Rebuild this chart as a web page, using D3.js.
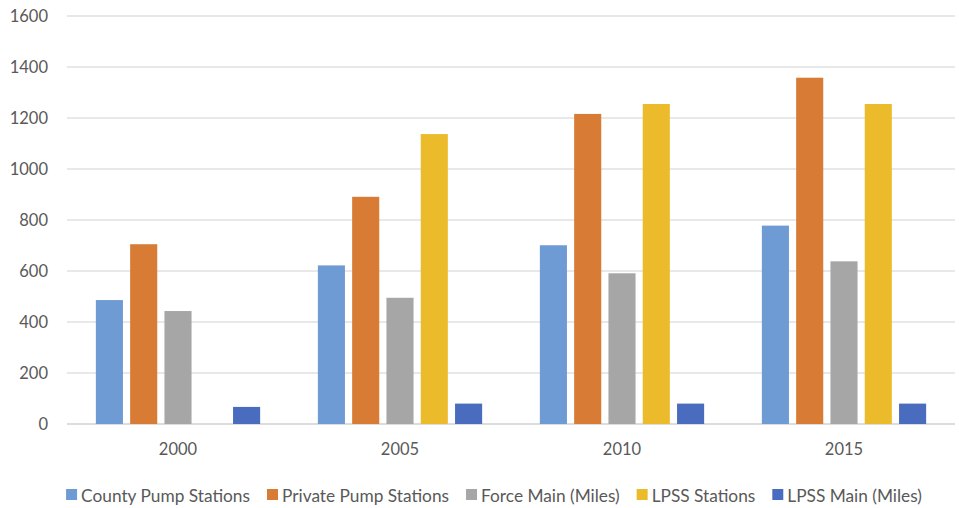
<!DOCTYPE html>
<html lang="en">
<head>
    <meta charset="utf-8">
    <script src="https://cdnjs.cloudflare.com/ajax/libs/d3/7.8.5/d3.min.js"></script>
    <style>
        body { margin: 0; background: #fff; }
        text { font-family: Lato, "Open Sans", sans-serif; fill: #595959; }
    </style>
</head>
<body>
    <script>
        var w = 959;
        var h = 508;

        // data
        var years = ["2000", "2005", "2010", "2015"];
        var seriesNames = ["County Pump Stations", "Private Pump Stations", "Force Main (Miles)", "LPSS Stations", "LPSS Main (Miles)"];
        var countyPump = [486, 622, 701, 778];
        var privatePump = [705, 891, 1216, 1358];
        var forceMain = [443, 495, 591, 638];
        var lpssStations = [0, 1137, 1255, 1255];
        var lpssMain = [67, 80, 80, 80];
        var yTicks = [0, 200, 400, 600, 800, 1000, 1200, 1400, 1600];
        var colors = ["#6f9bd4", "#d77b35", "#a6a6a6", "#ecbb2c", "#4a6cbf"];

        var values = [countyPump, privatePump, forceMain, lpssStations, lpssMain];

        var margin = { top: 16, right: 4, bottom: 84, left: 67 };
        var plotW = w - margin.left - margin.right;
        var plotH = h - margin.top - margin.bottom;

        var svg = d3.select("body").append("svg")
            .attr("width", w)
            .attr("height", h);

        var g = svg.append("g")
            .attr("transform", "translate(" + margin.left + "," + margin.top + ")");

        var x0 = d3.scaleBand()
            .domain(years)
            .range([0, plotW])
            .paddingInner(0.26)
            .paddingOuter(0.13);

        var x1 = d3.scaleBand()
            .domain(d3.range(seriesNames.length))
            .range([0, x0.bandwidth()])
            .paddingInner(0.21)
            .paddingOuter(0);

        var y = d3.scaleLinear()
            .domain([0, 1600])
            .range([plotH, 0]);

        // gridlines
        g.append("g")
            .selectAll("line")
            .data(yTicks)
            .enter()
            .append("line")
            .attr("x1", 0)
            .attr("x2", plotW)
            .attr("y1", d => y(d))
            .attr("y2", d => y(d))
            .attr("stroke", d => d == 0 ? "#d0d0d0" : "#e0e0e0")
            .attr("stroke-width", 1.3);

        // y labels
        g.append("g")
            .selectAll("text")
            .data(yTicks)
            .enter()
            .append("text")
            .attr("x", -19)
            .attr("y", d => y(d))
            .attr("dy", "0.36em")
            .attr("text-anchor", "end")
            .attr("font-size", "16.5px")
            .text(d => d);

        // bars
        var groups = g.selectAll("g.year")
            .data(years)
            .enter()
            .append("g")
            .attr("class", "year")
            .attr("transform", d => "translate(" + x0(d) + ",0)");

        groups.selectAll("rect")
            .data((d, i) => values.map((s, k) => ({ k: k, v: s[i] })))
            .enter()
            .append("rect")
            .attr("x", d => x1(d.k))
            .attr("width", x1.bandwidth())
            .attr("y", d => y(d.v))
            .attr("height", d => plotH - y(d.v))
            .attr("fill", d => colors[d.k]);

        // x labels
        g.append("g")
            .selectAll("text")
            .data(years)
            .enter()
            .append("text")
            .attr("x", d => x0(d) + x0.bandwidth() / 2)
            .attr("y", plotH + 31)
            .attr("text-anchor", "middle")
            .attr("font-size", "16.5px")
            .text(d => d);

        // legend
        var legend = svg.append("g");
        var items = legend.selectAll("g")
            .data(seriesNames)
            .enter()
            .append("g");

        items.append("rect")
            .attr("width", 11)
            .attr("height", 11)
            .attr("y", 489)
            .attr("fill", (d, i) => colors[i]);

        items.append("text")
            .attr("x", 15)
            .attr("y", 501.5)
            .attr("font-size", "17.3px")
            .text(d => d);

        var cx = 0;
        var offsets = [];
        items.each(function () {
            var tw = d3.select(this).select("text").node().getComputedTextLength();
            offsets.push(cx);
            cx += 15 + tw + 17;
        });
        var total = cx - 17;
        var start = (62 + 926) / 2 - total / 2;
        items.attr("transform", (d, i) => "translate(" + (start + offsets[i]) + ",0)");
    </script>
</body>
</html>
